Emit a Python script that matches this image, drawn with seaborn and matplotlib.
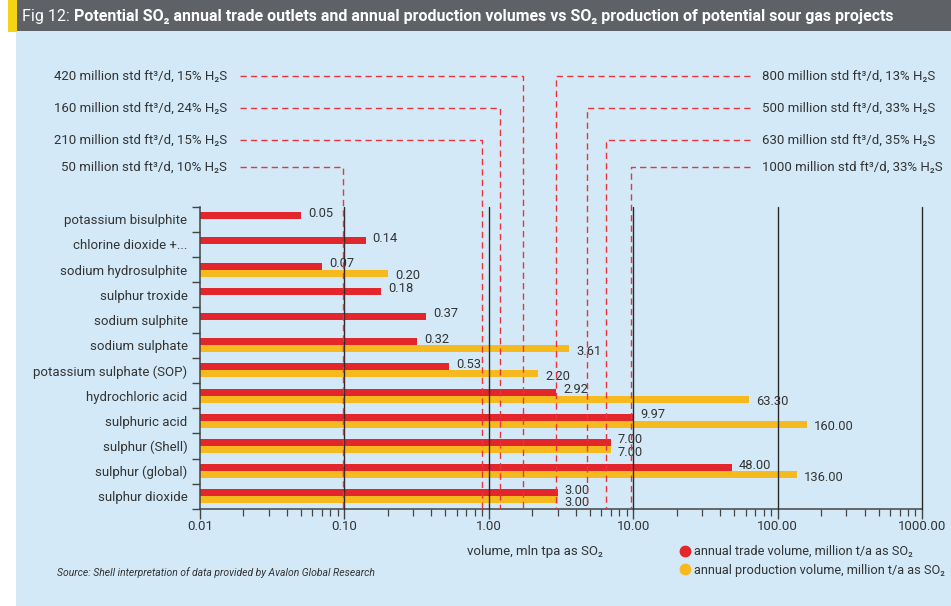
import numpy as np
import pandas as pd
import matplotlib
matplotlib.use("Agg")
import matplotlib.pyplot as plt
import matplotlib.transforms as mtransforms
from matplotlib.lines import Line2D
from matplotlib.patches import Rectangle
from matplotlib import font_manager
import seaborn as sns

# ---- data -------------------------------------------------------------
categories = [
    "potassium bisulphite",
    "chlorine dioxide +...",
    "sodium hydrosulphite",
    "sulphur troxide",
    "sodium sulphite",
    "sodium sulphate",
    "potassium sulphate (SOP)",
    "hydrochloric acid",
    "sulphuric acid",
    "sulphur (Shell)",
    "sulphur (global)",
    "sulphur dioxide",
]
trade_volume = [0.05, 0.14, 0.07, 0.18, 0.37, 0.32, 0.53, 2.92, 9.97, 7.00, 48.00, 3.00]
production_volume = [np.nan, np.nan, 0.20, np.nan, np.nan, 3.61, 2.20, 63.30, 160.00, 7.00, 136.00, 3.00]
series_names = [
    "annual trade volume, million t/a as SO\u2082",
    "annual production volume, million t/a as SO\u2082",
]

# sour gas projects and their SO2 output (mln tpa)
left_projects = [
    "420 million std ft\u00b3/d, 15% H\u2082S",
    "160 million std ft\u00b3/d, 24% H\u2082S",
    "210 million std ft\u00b3/d, 15% H\u2082S",
    "50 million std ft\u00b3/d, 10% H\u2082S",
]
left_so2 = [1.73, 1.20, 0.90, 0.098]
right_projects = [
    "800 million std ft\u00b3/d, 13% H\u2082S",
    "500 million std ft\u00b3/d, 33% H\u2082S",
    "630 million std ft\u00b3/d, 35% H\u2082S",
    "1000 million std ft\u00b3/d, 33% H\u2082S",
]
right_so2 = [2.92, 4.77, 6.45, 9.60]

x_ticks = [0.01, 0.1, 1, 10, 100, 1000]
x_tick_labels = ["0.01", "0.10", "1.00", "10.00", "100.00", "1000.00"]

# ---- style --------------------------------------------------------------
RED = "#E2262B"
YELLOW = "#F6BA1F"
DASH_RED = "#E8343A"
TEXT = "#333333"
BLUE_BG = "#D3E9F7"
TITLE_BG = "#5E6165"
STRIPE = "#F3D516"

sns.set_theme(style="ticks")
available = {f.name for f in font_manager.fontManager.ttflist}
main_font = "Liberation Sans Narrow" if "Liberation Sans Narrow" in available else "Roboto"
plt.rcParams["font.family"] = [main_font, "DejaVu Sans"]
plt.rcParams["text.color"] = TEXT
plt.rcParams["axes.labelcolor"] = TEXT
plt.rcParams["xtick.color"] = TEXT
plt.rcParams["ytick.color"] = TEXT

W, H = 951, 606
fig = plt.figure(figsize=(W / 100, H / 100), dpi=100)
fig.patch.set_facecolor("white")


def fx(px):
    return px / W


def fy(py):
    return 1 - py / H


# panel background, title bar and accent stripe
fig.add_artist(Rectangle((fx(16), 0), 1 - fx(16), fy(30), transform=fig.transFigure,
                         facecolor=BLUE_BG, edgecolor="none", zorder=-2))
fig.add_artist(Rectangle((fx(17), fy(31)), 1 - fx(17), 31 / H, transform=fig.transFigure,
                         facecolor=TITLE_BG, edgecolor="none", zorder=-1))
fig.add_artist(Rectangle((fx(8), fy(32)), 9 / W, 32 / H, transform=fig.transFigure,
                         facecolor=STRIPE, edgecolor="none", zorder=-1))

t1 = fig.text(fx(22), fy(16), "Fig 12:", color="white", fontsize=11.5, va="center")

ax = fig.add_axes([fx(200), fy(509), 722 / W, 302.3 / H])
ax.set_facecolor("none")

ax.annotate(
    " Potential SO\u2082 annual trade outlets and annual production volumes vs SO\u2082 "
    "production of potential sour gas projects",
    xy=(1, 0), xycoords=t1, va="bottom", ha="left", color="white",
    fontsize=11.5, fontweight="bold", annotation_clip=False,
)

# ---- bars ---------------------------------------------------------------
df = pd.DataFrame({
    "category": categories * 2,
    "series": [series_names[0]] * len(categories) + [series_names[1]] * len(categories),
    "value": trade_volume + production_volume,
}).dropna()

sns.barplot(
    data=df, y="category", x="value", hue="series", order=categories,
    hue_order=series_names, palette=[RED, YELLOW], saturation=1, orient="h",
    width=0.56, gap=0, dodge=True, log_scale=True, legend=False,
    linewidth=0, errorbar=None, ax=ax,
)

ax.set_xscale("log")
ax.set_xlim(0.01, 1000)
ax.set_ylim(len(categories) - 0.5, -0.5)

for i, cont in enumerate(ax.containers):
    labels = ax.bar_label(cont, fmt="%.2f", padding=5, fontsize=9.3, color=TEXT)
    dy = 1.9 if i == 0 else -1.9
    for lab in labels:
        lab.xyann = (lab.xyann[0], dy)

# ---- axes ---------------------------------------------------------------
ax.set_xticks(x_ticks)
ax.set_xticklabels(x_tick_labels, fontsize=9.5)
ax.set_xlabel("")
ax.set_ylabel("")
ax.tick_params(axis="y", which="major", length=0, labelsize=9.5, pad=9)
ax.set_yticks(np.arange(-0.5, len(categories) + 0.5, 1), minor=True)
ax.tick_params(axis="y", which="minor", length=6, width=1, color="#444444", left=True)
ax.tick_params(axis="x", which="major", length=7, width=1, color="#444444", pad=1)
ax.tick_params(axis="x", which="minor", length=5, width=0.9, color="#444444")
ax.xaxis.set_minor_formatter(matplotlib.ticker.NullFormatter())

for side in ("top", "right"):
    ax.spines[side].set_visible(False)
for side in ("left", "bottom"):
    ax.spines[side].set_color("#444444")
    ax.spines[side].set_linewidth(1.1)

# vertical reference lines at each decade, drawn over the bars
ax.grid(False)
for xv in x_ticks[1:]:
    ax.axvline(xv, color="#2a2a2a", linewidth=1.0, zorder=3, clip_on=False)

# ---- sour gas project reference lines -------------------------------------
blend = mtransforms.blended_transform_factory(ax.transData, ax.transAxes)
label_rows = [(509 - py) / 302.3 for py in (76, 108, 140, 167)]
xmin, xmax = ax.get_xlim()
lmin, lmax = np.log10(xmin), np.log10(xmax)


def axes_frac_to_data(f):
    return 10 ** (lmin + f * (lmax - lmin))


left_start = axes_frac_to_data((240 - 200) / 722)
right_end = axes_frac_to_data((750 - 200) / 722)
dash = (0, (4.5, 3))

for name, val, yr in zip(left_projects, left_so2, label_rows):
    ax.add_line(Line2D([left_start, val, val], [yr, yr, 0], transform=blend,
                       color=DASH_RED, lw=1.0, ls=dash, clip_on=False, zorder=4))
    ax.text((227 - 200) / 722, yr, name, transform=ax.transAxes, ha="right",
            va="center", fontsize=9.5, color=TEXT)

for name, val, yr in zip(right_projects, right_so2, label_rows):
    ax.add_line(Line2D([right_end, val, val], [yr, yr, 0], transform=blend,
                       color=DASH_RED, lw=1.0, ls=dash, clip_on=False, zorder=4))
    ax.text((762 - 200) / 722, yr, name, transform=ax.transAxes, ha="left",
            va="center", fontsize=9.5, color=TEXT)

# ---- annotations, legend --------------------------------------------------
fig.text(fx(535), fy(551), "volume, mln tpa as SO\u2082", ha="center", va="center",
         fontsize=9.5, color=TEXT)
fig.text(fx(57), fy(573), "Source: Shell interpretation of data provided by Avalon Global Research",
         ha="left", va="center", fontsize=7.5, style="italic", color=TEXT)

handles = [
    Line2D([], [], marker="o", ls="", color=RED, markersize=7.5),
    Line2D([], [], marker="o", ls="", color=YELLOW, markersize=7.5),
]
ax.legend(handles, series_names, loc="upper left",
          bbox_to_anchor=(fx(680), fy(545)), bbox_transform=fig.transFigure,
          frameon=False, handletextpad=0.3, handlelength=0.8, labelspacing=0.45,
          borderpad=0, borderaxespad=0, fontsize=9.2, labelcolor=TEXT)

fig.savefig("out.png", dpi=100)
